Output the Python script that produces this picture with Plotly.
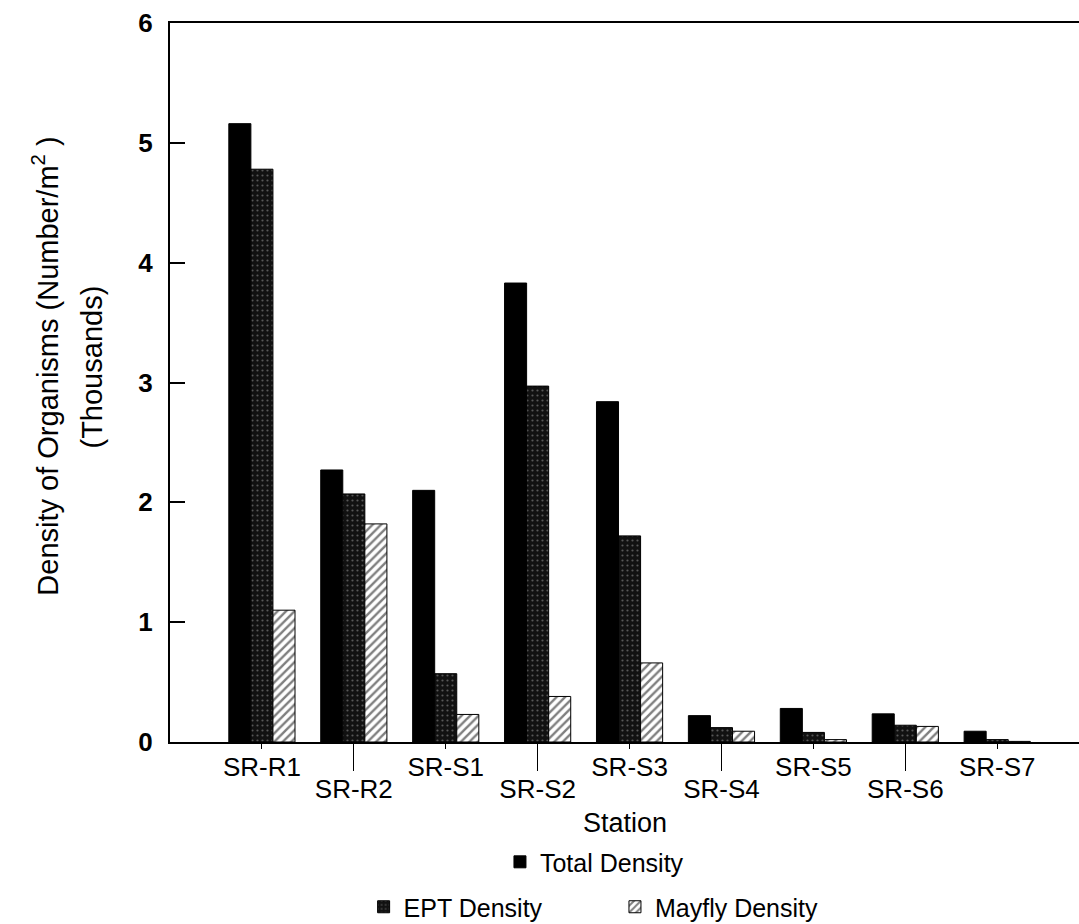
import plotly.graph_objects as go

stations = ["SR-R1", "SR-R2", "SR-S1", "SR-S2", "SR-S3", "SR-S4", "SR-S5", "SR-S6", "SR-S7"]
total_density = [5.16, 2.27, 2.10, 3.83, 2.84, 0.22, 0.28, 0.235, 0.09]
ept_density = [4.78, 2.07, 0.57, 2.97, 1.72, 0.12, 0.08, 0.14, 0.02]
mayfly_density = [1.10, 1.82, 0.23, 0.38, 0.66, 0.09, 0.02, 0.13, 0.005]
y_ticks = [0, 1, 2, 3, 4, 5, 6]

pos = list(range(len(stations)))
even_pos = pos[0::2]
odd_pos = pos[1::2]
FONT = "Liberation Sans, Arial, Helvetica, sans-serif"

fig = go.Figure()
fig.add_trace(go.Bar(
    x=pos, y=total_density, name="Total Density", legend="legend",
    marker=dict(color="black", line=dict(color="black", width=1)),
))
fig.add_trace(go.Bar(
    x=pos, y=ept_density, name="EPT Density", legend="legend2",
    marker=dict(color="black", line=dict(color="black", width=1),
                pattern=dict(shape=".", bgcolor="#111111", fgcolor="#a0a0a0",
                             size=5, solidity=0.15)),
))
fig.add_trace(go.Bar(
    x=pos, y=mayfly_density, name="Mayfly Density", legend="legend3",
    marker=dict(color="black", line=dict(color="black", width=1),
                pattern=dict(shape="/", bgcolor="white", fgcolor="black",
                             size=6, solidity=0.4)),
))
# invisible helper trace so the staggered-label axis (x2) is rendered
fig.add_trace(go.Scatter(
    x=odd_pos, y=[None] * len(odd_pos), xaxis="x2", yaxis="y",
    mode="markers", showlegend=False, hoverinfo="skip",
))

xrange = [-1.0, 8.89]
fig.update_layout(
    width=1079, height=924,
    margin=dict(l=170, r=0, t=23, b=182, autoexpand=False),
    paper_bgcolor="white", plot_bgcolor="white",
    barmode="group", bargap=0.28, bargroupgap=0,
    font=dict(family=FONT, color="black", size=25),
    xaxis=dict(
        range=xrange, tickmode="array", tickvals=even_pos,
        ticktext=[stations[i] for i in even_pos],
        ticks="outside", ticklen=5, tickcolor="black", tickwidth=1,
        showline=True, linecolor="black", linewidth=2, mirror=True,
        showgrid=False, zeroline=False, ticklabelstandoff=-4,
        tickfont=dict(size=26, family=FONT, color="black"),
    ),
    xaxis2=dict(
        overlaying="x", anchor="y", side="bottom",
        range=xrange, tickmode="array", tickvals=odd_pos,
        ticktext=[stations[i] for i in odd_pos],
        ticks="outside", ticklen=28, tickcolor="black", tickwidth=1,
        showline=False, showgrid=False, zeroline=False, ticklabelstandoff=-4,
        tickfont=dict(size=26, family=FONT, color="black"),
    ),
    yaxis=dict(
        range=[0, 6], tickmode="array", tickvals=y_ticks,
        ticks="inside", ticklen=15, tickcolor="black", tickwidth=2,
        showline=True, linecolor="black", linewidth=2,
        showgrid=False, zeroline=False, ticklabelstandoff=10,
        tickfont=dict(size=26, family=FONT, color="black", weight="bold"),
    ),
    legend=dict(orientation="h", x=0.363, xanchor="left", y=-0.167, yanchor="middle",
                font=dict(size=25, family=FONT, color="black"), bgcolor="rgba(0,0,0,0)"),
    legend2=dict(orientation="h", x=0.213, xanchor="left", y=-0.2295, yanchor="middle",
                 font=dict(size=25, family=FONT, color="black"), bgcolor="rgba(0,0,0,0)"),
    legend3=dict(orientation="h", x=0.4895, xanchor="left", y=-0.2295, yanchor="middle",
                 font=dict(size=25, family=FONT, color="black"), bgcolor="rgba(0,0,0,0)"),
    showlegend=True,
)

fig.add_annotation(text="Density of Organisms (Number/m<sup>2</sup> )",
                   xref="paper", yref="paper", x=-0.1375, y=0.522,
                   xanchor="center", yanchor="middle", textangle=-90, showarrow=False,
                   font=dict(size=29, family=FONT, color="black"))
fig.add_annotation(text="(Thousands)",
                   xref="paper", yref="paper", x=-0.086, y=0.522,
                   xanchor="center", yanchor="middle", textangle=-90, showarrow=False,
                   font=dict(size=29, family=FONT, color="black"))
fig.add_annotation(text="Station",
                   xref="paper", yref="paper", x=0.5, y=-0.113,
                   xanchor="center", yanchor="middle", showarrow=False,
                   font=dict(size=27, family=FONT, color="black"))

fig.write_html("out.html")
